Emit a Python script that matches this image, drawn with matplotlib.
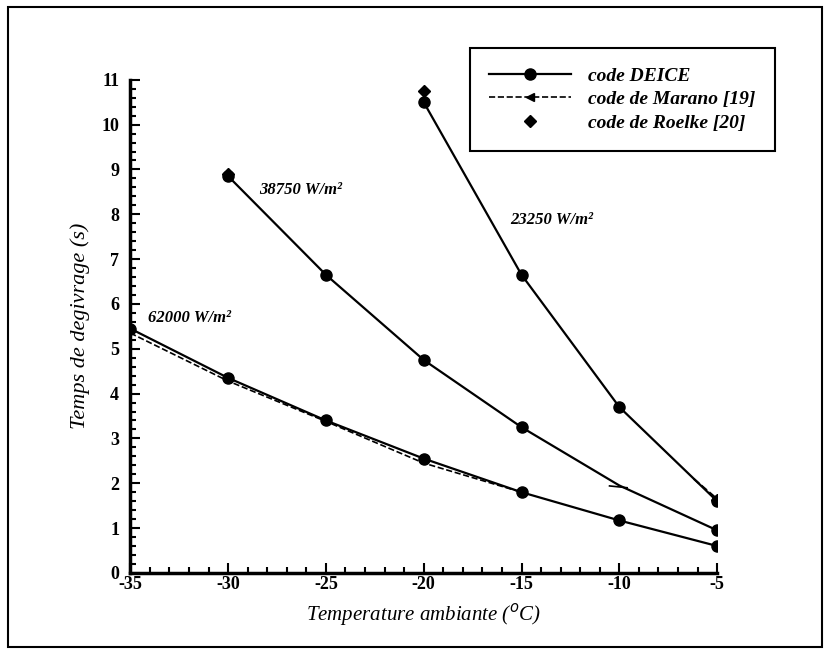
import matplotlib
matplotlib.use("Agg")
import matplotlib.pyplot as plt
from matplotlib.patches import Rectangle
from matplotlib.lines import Line2D
from matplotlib.ticker import MultipleLocator

# temperatures (°C)
temps = [-35, -30, -25, -20, -15, -10, -5]

# DEICE curves for each heat flux
deice_62000 = [5.45, 4.35, 3.4, 2.55, 1.8, 1.17, 0.6]
temps_38750 = [-30, -25, -20, -15, -10, -5]
deice_38750 = [8.85, 6.65, 4.75, 3.25, 1.95, 0.95]
temps_23250 = [-20, -15, -10, -5]
deice_23250 = [10.5, 6.65, 3.7, 1.6]

# Marano results
marano_t1 = [-35, -30, -25, -20, -15]
marano_v1 = [5.35, 4.28, 3.38, 2.45, 1.8]
marano_t2 = [-10.5, -9.6]
marano_v2 = [1.94, 1.9]
marano_t3 = [-6.2, -5]
marano_v3 = [2.1, 1.65]

# Roelke results
roelke_t = [-30, -20, -5]
roelke_v = [8.9, 10.75, 1.62]

plt.rcParams['font.family'] = ['Liberation Serif', 'DejaVu Serif']
plt.rcParams['axes.unicode_minus'] = False

fig = plt.figure(figsize=(8.3, 6.54), dpi=100)
ax = fig.add_axes([0.157, 0.124, 0.707, 0.754])

kw = dict(color='black', lw=1.6)
ax.plot(temps, deice_62000, '-o', ms=8, **kw)
ax.plot(temps_38750, deice_38750, '-o', ms=8, markevery=[0, 1, 2, 3, 5], **kw)
ax.plot(temps_23250, deice_23250, '-o', ms=8, **kw)

ax.plot(marano_t1, marano_v1, '--', color='black', lw=1.2)
ax.plot(marano_t2, marano_v2, '-', color='black', lw=1.2)
ax.plot(marano_t3, marano_v3, '--', color='black', lw=1.4)

ax.plot(roelke_t, roelke_v, 'D', color='black', ms=6, lw=0)

ax.set_xlim(-35, -5)
ax.set_ylim(0, 11)
ax.xaxis.set_major_locator(MultipleLocator(5))
ax.xaxis.set_minor_locator(MultipleLocator(1))
ax.yaxis.set_major_locator(MultipleLocator(1))
ax.yaxis.set_minor_locator(MultipleLocator(0.2))
ax.tick_params(which='both', direction='in', width=1.5)
ax.tick_params(which='major', length=7, labelsize=13)
ax.tick_params(axis='x', which='major', pad=2)
ax.tick_params(axis='y', which='major', pad=8)
ax.tick_params(which='minor', length=4)
for lab in ax.get_xticklabels() + ax.get_yticklabels():
    lab.set_fontweight('bold')

for s in ['top', 'right']:
    ax.spines[s].set_visible(False)
for s in ['left', 'bottom']:
    ax.spines[s].set_linewidth(2.5)

ax.set_xlabel('Temperature ambiante ($^o$C)', fontsize=15, style='italic', labelpad=6)
ax.set_ylabel('Temps de degivrage (s)', fontsize=16, style='italic', labelpad=8)

ann = dict(fontsize=12, style='italic', fontweight='bold', va='center')
ax.text(-34.1, 5.68, '62000 W/m²', **ann)
ax.text(-28.4, 8.55, '38750 W/m²', **ann)
ax.text(-15.6, 7.88, '23250 W/m²', **ann)

handles = [
    Line2D([], [], color='black', lw=1.6, marker='o', ms=8),
    Line2D([], [], color='black', lw=1.2, ls='--', marker='<', ms=6),
    Line2D([], [], color='black', lw=0, marker='D', ms=6),
]
leg = ax.legend(handles, ['code DEICE', 'code de Marano [19]', 'code de Roelke [20]'],
                loc='upper right', bbox_to_anchor=(0.934, 0.927), borderaxespad=0,
                bbox_transform=fig.transFigure, fancybox=False, framealpha=1,
                edgecolor='black', handlelength=4.2, borderpad=1.0, labelspacing=0.3,
                handletextpad=0.9,
                prop={'style': 'italic', 'weight': 'bold', 'size': 14})
leg.get_frame().set_linewidth(1.5)

fig.patches.append(Rectangle((8 / 830, 7 / 654), 814 / 830, 640 / 654,
                             transform=fig.transFigure, fill=False,
                             edgecolor='black', lw=1.5))

fig.savefig('out.png', dpi=100)
